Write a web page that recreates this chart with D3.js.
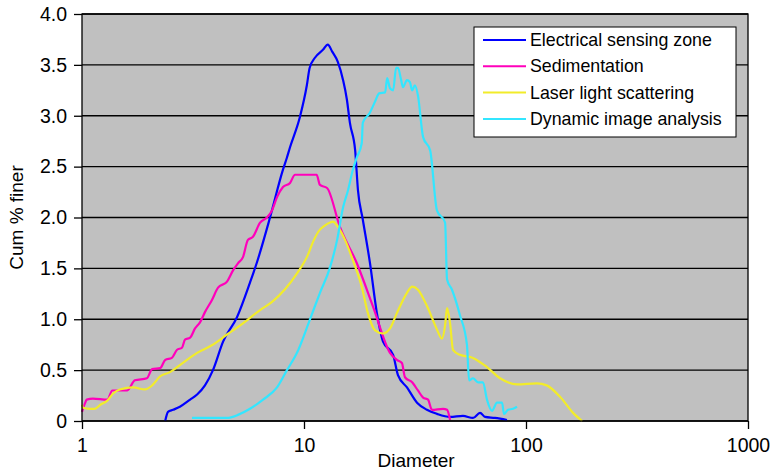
<!DOCTYPE html>
<html>
<head>
<meta charset="utf-8">
<script src="https://cdn.jsdelivr.net/npm/d3@7"></script>
<style>
  body { margin: 0; background: #fff; }
  svg { font-family: "Liberation Sans", Arial, sans-serif; }
</style>
</head>
<body>
<svg id="chart" width="775" height="473"></svg>
<script>
// [diameter, cum % finer]
const esz = [[2.37,0],[2.44,0.09],[2.57,0.11],[2.76,0.14],[3.07,0.21],[3.30,0.26],[3.58,0.35],[3.89,0.50],
  [4.32,0.78],[4.99,1.02],[5.71,1.36],[6.14,1.56],[7.03,2.00],[8.04,2.47],[8.38,2.59],[8.65,2.69],[9.59,2.99],
  [10.3,3.30],[10.6,3.47],[11.2,3.57],[12.2,3.65],[12.8,3.70],[13.4,3.63],[14.2,3.53],[15.0,3.35],[15.6,3.16],
  [16.1,2.93],[17.0,2.66],[17.5,2.27],[18.4,1.98],[19.8,1.56],[21.3,1.06],[22.7,0.78],[25.2,0.65],[26.5,0.45],
  [29.1,0.33],[32.3,0.18],[35.8,0.11],[39.7,0.07],[45.5,0.04],[52.0,0.05],[57.7,0.03],[62.1,0.08],[65.4,0.04],
  [72.5,0.03],[82.1,0.01]];

const sed = [[1.00,0.09],[1.03,0.17],[1.05,0.21],[1.12,0.22],[1.30,0.21],[1.37,0.30],[1.60,0.30],[1.73,0.40],
  [1.96,0.42],[2.07,0.51],[2.25,0.52],[2.37,0.60],[2.54,0.62],[2.68,0.70],[2.82,0.72],[2.91,0.80],[3.07,0.82],
  [3.23,0.91],[3.40,0.97],[3.58,1.07],[3.85,1.19],[4.10,1.31],[4.50,1.37],[4.79,1.48],[5.04,1.55],[5.31,1.61],
  [5.59,1.78],[5.89,1.81],[6.34,1.95],[6.81,2.00],[7.18,2.07],[7.56,2.20],[8.04,2.30],[8.65,2.34],[9.11,2.42],
  [11.4,2.42],[11.8,2.32],[12.7,2.29],[14.5,1.91],[17.3,1.55],[20.5,1.12],[24.4,0.67],[26.2,0.60],[27.6,0.57],
  [28.5,0.43],[30.7,0.38],[32.6,0.30],[34.4,0.23],[36.2,0.21],[37.7,0.11],[42.3,0.12],[44.1,0.11],[45.5,0.01]];

const laser = [[1.00,0.16],[1.01,0.13],[1.09,0.12],[1.14,0.12],[1.21,0.16],[1.30,0.20],[1.38,0.27],[1.48,0.31],
  [1.70,0.33],[1.92,0.31],[2.07,0.35],[2.25,0.44],[2.49,0.48],[2.76,0.55],[3.30,0.67],[3.89,0.75],[4.50,0.85],
  [5.31,0.96],[6.34,1.09],[7.18,1.17],[9.30,1.45],[10.4,1.63],[10.98,1.76],[11.6,1.86],[12.4,1.92],[13.1,1.95],
  [13.5,1.96],[14.2,1.91],[15.3,1.78],[16.6,1.58],[18.2,1.32],[19.4,1.06],[20.9,0.89],[22.7,0.86],[24.4,0.91],
  [26.2,1.06],[29.1,1.26],[30.7,1.32],[32.6,1.29],[35.8,1.13],[39.7,0.90],[41.8,0.81],[43.2,0.94],[44.1,1.11],
  [45.5,0.96],[46.9,0.70],[50.4,0.65],[57.7,0.62],[66.7,0.53],[76.4,0.42],[91.1,0.36],[112,0.37],[124,0.35],
  [142,0.24],[163,0.08],[179,0]];

const dia = [[3.13,0.03],[4.50,0.03],[5.04,0.06],[5.71,0.12],[6.54,0.21],[7.56,0.33],[8.38,0.50],[9.30,0.67],
  [10.6,0.99],[11.8,1.26],[13.1,1.51],[14.1,1.78],[15.0,2.10],[15.8,2.27],[16.6,2.47],[17.3,2.59],[18.2,2.73],
  [18.4,2.93],[19.8,3.03],[20.9,3.14],[21.8,3.22],[23.2,3.23],[23.7,3.37],[24.4,3.27],[25.2,3.25],[26.0,3.47],
  [26.5,3.47],[27.4,3.35],[27.9,3.28],[29.1,3.35],[30.0,3.33],[30.7,3.25],[31.6,3.30],[32.6,3.20],[34.4,2.79],
  [37.0,2.66],[39.7,2.07],[43.2,1.95],[44.1,1.39],[46.4,1.29],[50.4,1.04],[54.2,0.75],[55.4,0.40],[57.7,0.42],
  [60.8,0.38],[64.0,0.38],[66.7,0.21],[70.3,0.10],[74.0,0.18],[78.0,0.18],[79.6,0.07],[83.0,0.11],[87.4,0.12],
  [91.1,0.14]];

const seriesNames = ["Electrical sensing zone", "Sedimentation", "Laser light scattering", "Dynamic image analysis"];
const seriesColors = ["#0000ff", "#ff00bb", "#f2ec2a", "#33e6ff"];
const seriesData = [esz, sed, laser, dia];
const xTicks = [1, 10, 100, 1000];
const yTicks = [0, 0.5, 1, 1.5, 2, 2.5, 3, 3.5, 4];

var margin = {top: 14, right: 27, bottom: 52, left: 82};
var width = 775 - margin.left - margin.right,
    height = 473 - margin.top - margin.bottom;

const svg = d3.select("#chart");
const g = svg.append("g").attr("transform", `translate(${margin.left},${margin.top})`);

const x = d3.scaleLog().domain([1, 1000]).range([0, width]);
const y = d3.scaleLinear().domain([0, 4]).range([height, 0]);

g.append("rect").attr("width", width).attr("height", height).attr("fill", "#c0c0c0");

// gridlines
g.selectAll(".grid").data(yTicks).enter().append("line")
  .attr("x1", 0).attr("x2", width)
  .attr("y1", d => y(d)).attr("y2", d => y(d))
  .attr("stroke", "#000").attr("stroke-width", 1.3);

// series
const line = d3.line().x(d => x(d[0])).y(d => y(d[1])).curve(d3.curveMonotoneX);
seriesData.forEach((s, i) => {
  g.append("path").datum(s).attr("fill", "none")
    .attr("stroke", seriesColors[i]).attr("stroke-width", 2.2)
    .attr("stroke-linejoin", "round").attr("d", line);
});

// frame
g.append("rect").attr("width", width).attr("height", height)
  .attr("fill", "none").attr("stroke", "#000").attr("stroke-width", 1.3);

// axes
const yAxis = g.append("g").call(d3.axisLeft(y).tickValues(yTicks).tickSize(8).tickPadding(7)
  .tickFormat(d => d === 0 ? "0" : d.toFixed(1)));
const xAxis = g.append("g").attr("transform", `translate(0,${height})`)
  .call(d3.axisBottom(x).tickValues(xTicks).tickSize(8).tickPadding(9).tickFormat(d3.format("d")));
[xAxis, yAxis].forEach(a => {
  a.select(".domain").remove();
  a.selectAll("line").attr("stroke", "#000").attr("stroke-width", 1.3);
  a.selectAll("text").attr("fill", "#000").style("font-size", "19.5px")
    .style("font-family", '"Liberation Sans", Arial, sans-serif');
});

// axis titles
svg.append("text").attr("x", margin.left + x(32)).attr("y", 467)
  .attr("text-anchor", "middle").style("font-size", "19px").text("Diameter");
svg.append("text").attr("transform", `translate(23,${margin.top + height / 2}) rotate(-90)`)
  .attr("text-anchor", "middle").style("font-size", "19px").text("Cum % finer");

// legend
const lg = svg.append("g").attr("transform", "translate(474,27)");
lg.append("rect").attr("width", 262).attr("height", 110)
  .attr("fill", "#fff").attr("stroke", "#000").attr("stroke-width", 1);
seriesNames.forEach((n, i) => {
  const ly = 13 + i * 26.3;
  lg.append("line").attr("x1", 9).attr("x2", 52).attr("y1", ly).attr("y2", ly)
    .attr("stroke", seriesColors[i]).attr("stroke-width", 2);
  lg.append("text").attr("x", 56).attr("y", ly + 6).style("font-size", "17.8px").text(n);
});
</script>
</body>
</html>
